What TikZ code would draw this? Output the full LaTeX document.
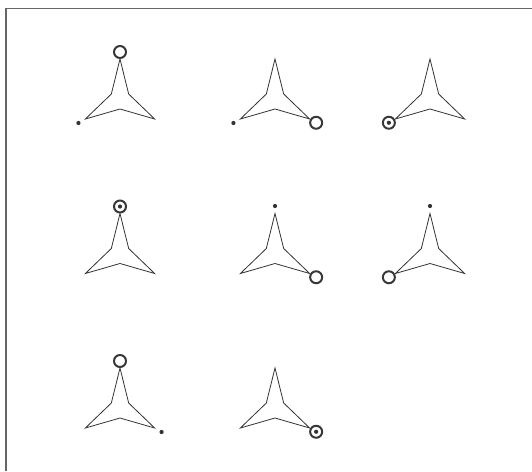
\documentclass[tikz,border=0pt]{standalone}
\begin{document}
\begin{tikzpicture}[x=1pt,y=-1pt,
  frameline/.style={draw=black!60,line width=1.6pt},
  starline/.style={draw=black!80,line width=0.8pt,line join=miter},
  ring/.style={circle,draw=black!78,line width=2pt,minimum size=12pt,inner sep=0pt,outer sep=0pt},
  ringdot/.style={ring,path picture={\fill[black!80] (path picture bounding box.center) circle (2.1pt);}},
  smalldot/.style={circle,fill=black!80,minimum size=4.2pt,inner sep=0pt,outer sep=0pt}]
\useasboundingbox (0,0) rectangle (532,471);
\coordinate (fl) at (6,471);
\coordinate (fc) at (6,8.5);
\coordinate (fr) at (532,8.5);
\draw[frameline] (fl) -- (fc) -- (fr);
\newcommand\glyph[3]{%
  \begin{scope}[shift={(#2,#3)}]
    \draw[starline] (270:40) -- (210:10) -- (150:40) -- (90:10) -- (30:40) -- (330:10) -- cycle;
    \coordinate (#1-t) at (270:47);
    \coordinate (#1-l) at (150:47.5);
    \coordinate (#1-r) at (30:47.5);
    \coordinate (#1-td) at (270:47.5);
    \coordinate (#1-ld) at (150:48);
    \coordinate (#1-rd) at (30:48);
  \end{scope}}
\glyph{a}{120}{99}
\glyph{b}{275}{99}
\glyph{c}{430}{99}
\glyph{d}{120}{253.5}
\glyph{e}{275}{253.5}
\glyph{f}{430}{253.5}
\glyph{g}{120}{408}
\glyph{h}{275}{408}
% row 1
\node[ring] (a1) at (a-t) {};
\node[smalldot] (a2) at (a-ld) {};
\node[smalldot] (b1) at (b-ld) {};
\node[ring] (b2) at (b-r) {};
\node[ringdot] (c1) at (c-l) {};
% row 2
\node[ringdot] (d1) at (d-t) {};
\node[smalldot] (e1) at (e-td) {};
\node[ring] (e2) at (e-r) {};
\node[smalldot] (f1) at (f-td) {};
\node[ring] (f2) at (f-l) {};
% row 3
\node[ring] (g1) at (g-t) {};
\node[smalldot] (g2) at (g-rd) {};
\node[ringdot] (h1) at (h-r) {};
\end{tikzpicture}
\end{document}
